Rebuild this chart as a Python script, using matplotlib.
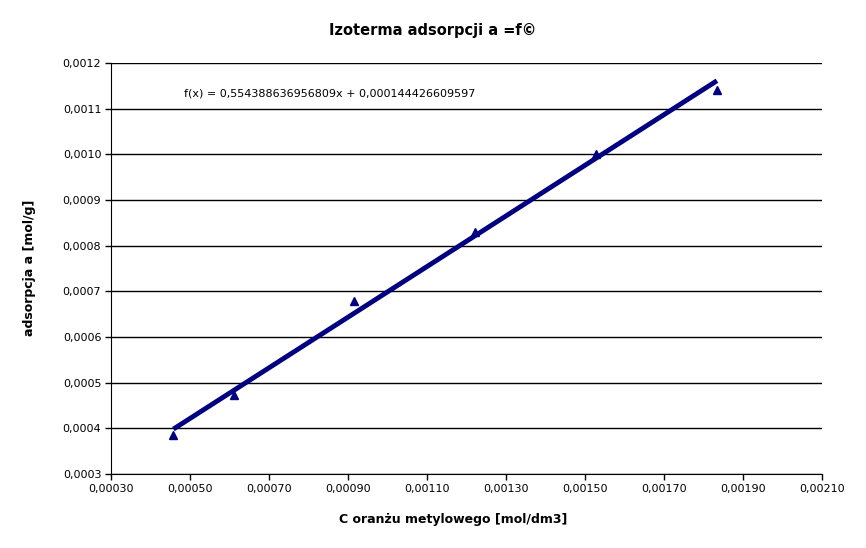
import matplotlib
matplotlib.use('Agg')
import matplotlib.pyplot as plt
import numpy as np
from matplotlib.ticker import FuncFormatter

# dane pomiarowe
c_oranzu = [0.000458, 0.000611, 0.000916, 0.001221, 0.001528, 0.001834]
adsorpcja = [0.000385, 0.000473, 0.000679, 0.000830, 0.001001, 0.001141]

# linia trendu
slope = 0.554388636956809
intercept = 0.000144426609597

xticks = np.arange(0.0003, 0.00211, 0.0002)
yticks = np.arange(0.0003, 0.00121, 0.0001)

navy = '#000080'

fig = plt.figure(figsize=(8.66, 5.48), dpi=100)
ax = fig.add_axes([111/866, 1 - 474/548, (822-111)/866, (474-63)/548])

ax.plot(c_oranzu, adsorpcja, linestyle='none', marker='^', color=navy,
        markersize=6, zorder=3)
xs = np.array([min(c_oranzu), max(c_oranzu)])
ax.plot(xs, slope * xs + intercept, color=navy, linewidth=3.5,
        solid_capstyle='butt', zorder=2)

ax.set_xlim(0.0003, 0.0021)
ax.set_ylim(0.0003, 0.0012)
ax.set_xticks(xticks)
ax.set_yticks(yticks)
ax.xaxis.set_major_formatter(FuncFormatter(lambda v, p: ('%.5f' % v).replace('.', ',')))
ax.yaxis.set_major_formatter(FuncFormatter(lambda v, p: ('%.4f' % v).replace('.', ',')))
ax.tick_params(labelsize=8, length=4, width=1, color='black', pad=3)
ax.yaxis.grid(True, color='black', linewidth=1)
ax.set_axisbelow(True)
for s in ['top', 'right']:
    ax.spines[s].set_visible(False)

fig.text(0.5, 1 - 30/548, 'Izoterma adsorpcji a =f©', fontsize=10.5,
         fontweight='semibold', ha='center', va='center')
fig.text(453/866, 1 - 520/548, 'C oranżu metylowego [mol/dm3]', fontsize=9,
         fontweight='bold', ha='center', va='center')
fig.text(30/866, 1 - 268/548, 'adsorpcja a [mol/g]', fontsize=9,
         fontweight='bold', ha='center', va='center', rotation=90)

ax.text(0.0004845, 0.001134,
        'f(x) = 0,554388636956809x + 0,000144426609597',
        fontsize=8, va='center', ha='left')

fig.savefig('out.png', dpi=100)
